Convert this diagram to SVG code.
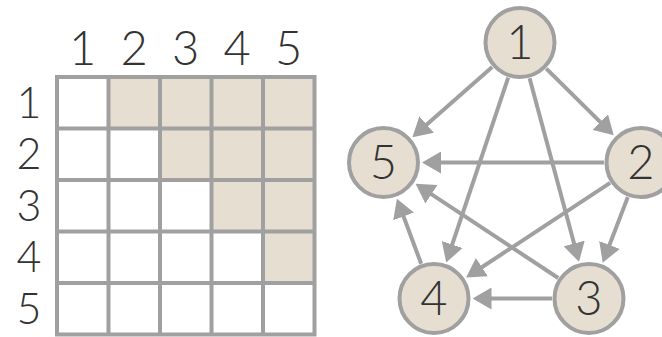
<svg xmlns="http://www.w3.org/2000/svg" width="662" height="337" viewBox="0 0 662 337">
<style>
.lbl{font-family:Lato,"Open Sans","Liberation Sans",sans-serif;font-weight:300;font-size:47px;fill:#333;text-anchor:middle}
.row{font-size:43px}
.cell{fill:#e6dfd1}
.grid{fill:none;stroke:#a0a0a0;stroke-width:4}
.node circle{fill:#e6dfd1;stroke:#a0a0a0;stroke-width:4}
.edge{stroke:#a0a0a0;stroke-width:4;fill:none;marker-end:url(#ah)}
</style>
<defs>
<marker id="ah" viewBox="0 0 19 22" refX="7" refY="11" markerWidth="19" markerHeight="22" markerUnits="userSpaceOnUse" orient="auto">
<path d="M0,0 L19,11 L0,22 z" fill="#a0a0a0"/>
</marker>
</defs>
<rect width="662" height="337" fill="#fff"/>
<g id="matrix">
<g id="shaded">
<rect class="cell" x="108.5" y="77" width="206" height="51.5"/>
<rect class="cell" x="160" y="128.5" width="154.5" height="51.5"/>
<rect class="cell" x="211.5" y="180" width="103" height="51.5"/>
<rect class="cell" x="263" y="231.5" width="51.5" height="51.5"/>
</g>
<path class="grid" d="M57,77H314.5V334.5H57Z M108.5,77V334.5 M160,77V334.5 M211.5,77V334.5 M263,77V334.5 M57,128.5H314.5 M57,180H314.5 M57,231.5H314.5 M57,283H314.5"/>
<g id="col-labels">
<text class="lbl" x="82.75" y="65">1</text>
<text class="lbl" x="134.25" y="65">2</text>
<text class="lbl" x="185.75" y="65">3</text>
<text class="lbl" x="237.25" y="65">4</text>
<text class="lbl" x="288.75" y="65">5</text>
</g>
<g id="row-labels">
<text class="lbl row" x="29" y="117.5">1</text>
<text class="lbl row" x="29" y="169">2</text>
<text class="lbl row" x="29" y="220.5">3</text>
<text class="lbl row" x="29" y="272">4</text>
<text class="lbl row" x="29" y="323.5">5</text>
</g>
</g>
<g id="nodes">
<g id="n1" class="node"><circle cx="520" cy="42.5" r="34.5"/><text class="lbl" x="520" y="58.5">1</text></g>
<g id="n2" class="node"><circle cx="641" cy="162.5" r="34.5"/><text class="lbl" x="641" y="178.5">2</text></g>
<g id="n3" class="node"><circle cx="589" cy="298.5" r="34.5"/><text class="lbl" x="589" y="314.5">3</text></g>
<g id="n4" class="node"><circle cx="434" cy="298.5" r="34.5"/><text class="lbl" x="434" y="314.5">4</text></g>
<g id="n5" class="node"><circle cx="383.5" cy="162.5" r="34.5"/><text class="lbl" x="383.5" y="178.5">5</text></g>
</g>
<g id="edges">
<line class="edge" x1="492.2" y1="66.9" x2="421.4" y2="129.2"/>
<line class="edge" x1="546.3" y1="68.6" x2="605.2" y2="126.9"/>
<line class="edge" x1="508.2" y1="77.6" x2="450.0" y2="251.1"/>
<line class="edge" x1="529.6" y1="78.2" x2="575.9" y2="250.2"/>
<line class="edge" x1="604" y1="162.5" x2="434" y2="162.5"/>
<line class="edge" x1="610.1" y1="182.9" x2="476.1" y2="271.0"/>
<line class="edge" x1="627.8" y1="197.1" x2="607.0" y2="251.5"/>
<line class="edge" x1="558.2" y1="278.0" x2="425.6" y2="190.4"/>
<line class="edge" x1="552" y1="298.5" x2="484.5" y2="298.5"/>
<line class="edge" x1="421.2" y1="263.8" x2="401.1" y2="209.9"/>
</g>
</svg>
